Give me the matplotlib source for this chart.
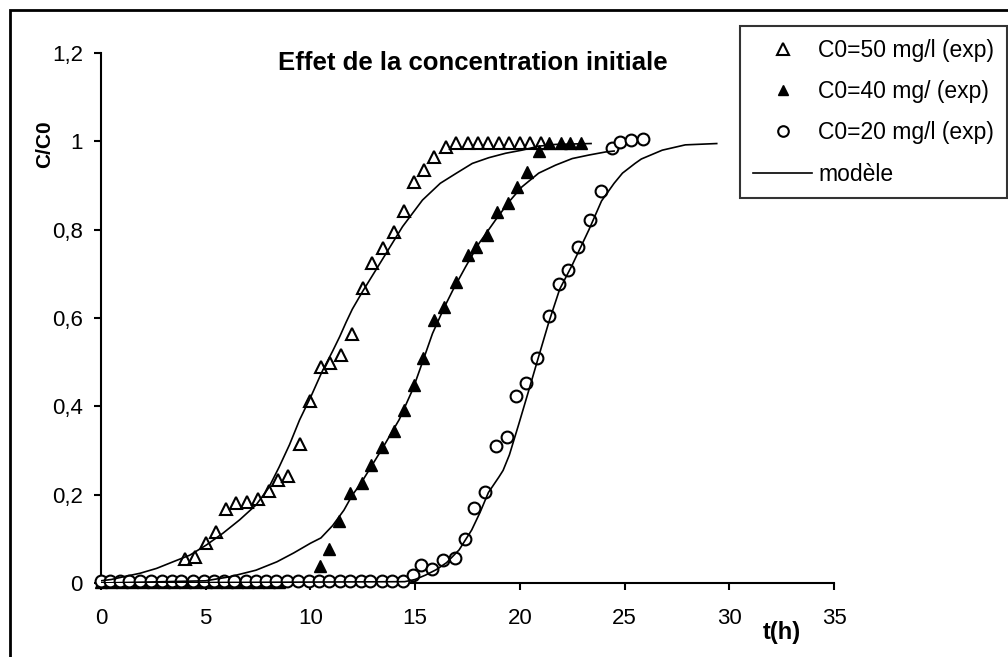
import numpy as np
import matplotlib
matplotlib.use("Agg")
import matplotlib.pyplot as plt
from matplotlib.patches import Rectangle

plt.rcParams['font.family'] = ['Liberation Sans', 'DejaVu Sans']

# C0 = 50 mg/l, experimental (open triangles)
t50 = [4.0, 4.5, 5.0, 5.5, 5.95, 6.45, 6.95, 7.5, 8.0, 8.45, 8.95, 9.5, 10.0, 10.5,
       10.95, 11.45, 11.98, 12.5, 12.95, 13.45, 13.97, 14.48, 14.95, 15.43, 15.9,
       16.45, 16.97, 17.5, 18.0, 18.5, 19.0, 19.5, 20.0, 20.5, 21.0]
c50 = [0.055, 0.058, 0.09, 0.116, 0.168, 0.182, 0.183, 0.19, 0.209, 0.233, 0.243,
       0.314, 0.412, 0.488, 0.497, 0.516, 0.564, 0.667, 0.724, 0.758, 0.795, 0.842,
       0.909, 0.935, 0.965, 0.988, 0.997, 0.997, 0.997, 0.997, 0.997, 0.997, 0.997,
       0.997, 0.997]

# C0 = 40 mg/l, experimental (filled triangles)
t40 = [0.0, 0.5, 1.0, 1.5, 2.0, 2.5, 3.0, 3.5, 4.0, 4.5, 5.0, 5.5, 6.0, 6.5, 7.0,
       7.5, 8.0, 8.5,
       10.48, 10.9, 11.38, 11.9, 12.46, 12.89, 13.4, 13.97, 14.48, 14.95, 15.38,
       15.9, 16.4, 16.94, 17.5, 17.9, 18.44, 18.92, 19.44, 19.87, 20.35, 20.9,
       21.4, 21.97, 22.4, 22.9]
c40 = [0.002] * 18 + [0.038, 0.076, 0.14, 0.203, 0.226, 0.267, 0.307, 0.345, 0.392,
                      0.448, 0.509, 0.595, 0.624, 0.682, 0.743, 0.76, 0.788, 0.84,
                      0.861, 0.897, 0.931, 0.977, 0.997, 0.997, 0.997, 0.997]

# C0 = 20 mg/l, experimental (open circles)
t20 = [0.0, 0.45, 0.9, 1.35, 1.86, 2.38, 2.92, 3.4, 3.84, 4.37, 4.9, 5.4, 5.86,
       6.35, 6.9, 7.4, 7.9, 8.36, 8.9, 9.4, 9.94, 10.4, 10.9, 11.4, 11.9, 12.4,
       12.86, 13.4, 13.9, 14.4,
       14.9, 15.3, 15.8, 16.35, 16.9, 17.38, 17.8, 18.33, 18.84, 19.4, 19.8, 20.3,
       20.82, 21.38, 21.87, 22.3, 22.8, 23.33, 23.87, 24.4, 24.8, 25.3, 25.9]
c20 = [0.005] * 30 + [0.018, 0.041, 0.032, 0.052, 0.056, 0.099, 0.169, 0.207,
                      0.311, 0.331, 0.424, 0.452, 0.509, 0.605, 0.676, 0.709,
                      0.76, 0.822, 0.887, 0.986, 0.999, 1.003, 1.005]

# model curves
tm50 = [0.0, 0.5, 1.06, 1.86, 2.65, 3.44, 4.24, 5.03, 5.83, 6.62, 7.41, 8.0, 8.5,
        9.0, 9.48, 10.05, 10.55, 11.06, 11.4, 11.7, 12.0, 12.49, 13.44, 14.4, 15.35,
        16.2, 16.94, 17.73, 18.52, 19.32, 20.1, 20.9, 21.7, 22.5, 23.4]
cm50 = [0.005, 0.008, 0.014, 0.022, 0.033, 0.048, 0.063, 0.086, 0.113, 0.143,
        0.177, 0.215, 0.262, 0.313, 0.369, 0.425, 0.478, 0.525, 0.558, 0.59, 0.62,
        0.66, 0.733, 0.807, 0.867, 0.905, 0.927, 0.95, 0.963, 0.973, 0.98, 0.989,
        0.993, 0.994, 0.995]

tm40 = [0.0, 5.0, 6.14, 7.4, 8.4, 9.2, 10.0, 10.5, 11.06, 11.6, 12.0, 12.4, 13.44,
        14.24, 14.9, 15.35, 15.83, 16.4, 16.8, 17.41, 18.05, 18.84, 19.48, 20.1,
        20.9, 21.7, 22.5, 23.3, 24.1, 24.5]
cm40 = [0.0, 0.005, 0.014, 0.029, 0.048, 0.068, 0.09, 0.102, 0.13, 0.165, 0.199,
        0.225, 0.305, 0.37, 0.44, 0.5, 0.565, 0.625, 0.663, 0.716, 0.769, 0.822,
        0.863, 0.897, 0.928, 0.946, 0.961, 0.969, 0.976, 0.978]

tm20 = [0.0, 14.5, 15.0, 15.5, 16.0, 16.5, 17.1, 17.7, 18.1, 18.5, 19.0, 19.2,
        19.5, 19.95, 20.4, 20.85, 21.38, 21.9, 22.5, 23.0, 23.3, 23.9, 24.5, 24.9,
        25.5, 25.8, 26.8, 27.9, 29.4]
cm20 = [0.0, 0.003, 0.008, 0.018, 0.03, 0.046, 0.075, 0.12, 0.16, 0.205, 0.24,
        0.255, 0.29, 0.36, 0.432, 0.505, 0.59, 0.665, 0.72, 0.77, 0.8, 0.865,
        0.905, 0.928, 0.95, 0.96, 0.98, 0.992, 0.995]

x_ticks = [0, 5, 10, 15, 20, 25, 30, 35]
y_ticks = [0, 0.2, 0.4, 0.6, 0.8, 1.0, 1.2]
y_labels = ['0', '0,2', '0,4', '0,6', '0,8', '1', '1,2']

W, H = 1008, 657
fig = plt.figure(figsize=(W / 100, H / 100), dpi=100)
ax = fig.add_axes([101 / W, 1 - 583 / H, (834 - 101) / W, (583 - 53) / H])

# outer frame (cut by the image on the right and bottom)
fig.patches.append(Rectangle((10 / W, -0.05), 1.2, 1.05 - 10 / H,
                             transform=fig.transFigure, fill=False,
                             lw=2.0, ec='black'))

ax.plot(t40, c40, ls='none', marker='^', ms=8, mfc='black', mec='black',
        mew=1.0, clip_on=False, zorder=3, label='C0=40 mg/ (exp)')
ax.plot(t50, c50, ls='none', marker='^', ms=8.8, mfc='none', mec='black',
        mew=1.5, clip_on=False, zorder=3, label='C0=50 mg/l (exp)')
ax.plot(t20, c20, ls='none', marker='o', ms=8.5, mfc='white', mec='black',
        mew=1.5, clip_on=False, zorder=4, label='C0=20 mg/l (exp)')
ax.plot(tm50, cm50, color='black', lw=1.2, zorder=5, label='modèle')
ax.plot(tm40, cm40, color='black', lw=1.2, zorder=5)
ax.plot(tm20, cm20, color='black', lw=1.2, zorder=5)

ax.set_xlim(0, 35)
ax.set_ylim(0, 1.2)
ax.set_xticks(x_ticks)
ax.set_xticklabels([str(v) for v in x_ticks])
ax.set_yticks(y_ticks)
ax.set_yticklabels(y_labels)
for s in ['top', 'right']:
    ax.spines[s].set_visible(False)
for s in ['left', 'bottom']:
    ax.spines[s].set_linewidth(1.5)
ax.tick_params(axis='both', direction='out', length=5, width=1.5,
               labelsize=16, colors='black')
ax.tick_params(axis='x', pad=13)
ax.tick_params(axis='y', pad=8)

fig.text(473 / W, 1 - 63 / H, 'Effet de la concentration initiale',
         ha='center', va='center', fontsize=18.5, fontweight='bold')
fig.text(45 / W, 1 - 144 / H, 'C/C0', rotation=90, ha='center', va='center',
         fontsize=15, fontweight='bold')
fig.text(782 / W, 1 - 633 / H, 't(h)', ha='center', va='center',
         fontsize=17, fontweight='bold')

h, l = ax.get_legend_handles_labels()
order = [1, 0, 2, 3]
leg = fig.legend([h[i] for i in order], [l[i] for i in order],
                 loc='upper right', bbox_to_anchor=(1007 / W, 1 - 26 / H),
                 frameon=True, fancybox=False, edgecolor='black',
                 fontsize=16.5, handlelength=2.6, handletextpad=0.26,
                 labelspacing=0.8, borderpad=0.55, borderaxespad=0,
                 markerscale=0.9)
leg.get_frame().set_linewidth(1.5)

fig.savefig('out.png', dpi=100)
